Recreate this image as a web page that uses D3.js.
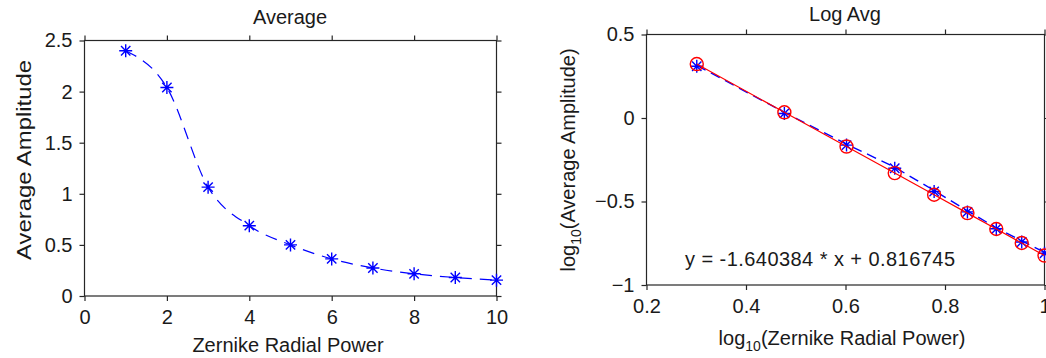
<!DOCTYPE html>
<html>
<head>
<meta charset="utf-8">
<script src="https://cdn.jsdelivr.net/npm/d3@7"></script>
<style>
  html, body { margin: 0; padding: 0; background: #ffffff; }
  svg { display: block; }
  text { font-family: "Liberation Sans", Arial, sans-serif; fill: #1a1a1a; }
</style>
</head>
<body>
<svg id="chart" width="1046" height="358"></svg>
<script>
// ---- data ----
const radialPower = [1, 2, 3, 4, 5, 6, 7, 8, 9, 10];
const avgAmplitude = [2.40, 2.04, 1.065, 0.688, 0.50, 0.363, 0.274, 0.217, 0.181, 0.155];
const logPlotPower = [2, 3, 4, 5, 6, 7, 8, 9, 10];   // points shown in the log plot
const fitSlope = -1.640384;
const fitIntercept = 0.816745;
const leftXTicks = [0, 2, 4, 6, 8, 10];
const leftYTicks = [0, 0.5, 1, 1.5, 2, 2.5];
const rightXTicks = [0.2, 0.4, 0.6, 0.8, 1.0];
const rightYTicks = [-1, -0.5, 0, 0.5];
const leftTitle = "Average";
const rightTitle = "Log Avg";
const leftXLabel = "Zernike Radial Power";
const leftYLabel = "Average Amplitude";
const equationText = "y = -1.640384 * x + 0.816745";

const svg = d3.select("#chart");
const FS = 20;
const AXIS = "#262626";

function starPath(r) {
  const d = r * 0.72;
  return `M${-r},0L${r},0M0,${-r}L0,${r}M${-d},${-d}L${d},${d}M${-d},${d}L${d},${-d}`;
}

function drawFrame(g, x, y, xTicks, yTicks, xFmt, yFmt, opts) {
  const [x0, x1] = x.range();
  const [y0, y1] = y.range(); // y0 bottom, y1 top
  // box
  g.append("rect").attr("x", x0).attr("y", y1).attr("width", x1 - x0).attr("height", y0 - y1)
    .attr("fill", "none").attr("stroke", AXIS).attr("stroke-width", 1.2);
  const tl = 5;
  // axes via d3 for ticks
  const bottom = d3.axisBottom(x).tickValues(xTicks).tickFormat(xFmt).tickSizeInner(tl).tickSizeOuter(0).tickPadding(9);
  const left = d3.axisLeft(y).tickValues(yTicks).tickFormat(yFmt).tickSizeInner(tl).tickSizeOuter(0).tickPadding(7);
  const top = d3.axisTop(x).tickValues(xTicks).tickFormat("").tickSizeInner(tl).tickSizeOuter(0);
  const right = d3.axisRight(y).tickValues(yTicks).tickFormat("").tickSizeInner(tl).tickSizeOuter(0);
  const styleAx = sel => {
    sel.select(".domain").remove();
    sel.selectAll(".tick line").attr("stroke", AXIS).attr("stroke-width", 1.2);
    sel.selectAll(".tick text").attr("fill", "#1a1a1a").attr("font-size", FS)
      .attr("font-family", "Liberation Sans, Arial, sans-serif");
  };
  g.append("g").attr("transform", `translate(0,${y0})`).call(bottom).call(styleAx);
  g.append("g").attr("transform", `translate(${x0},0)`).call(left).call(styleAx);
  g.append("g").attr("transform", `translate(0,${y1})`).call(top).call(styleAx);
  g.append("g").attr("transform", `translate(${x1},0)`).call(right).call(styleAx);
}

// ---------------- left plot ----------------
const xL = d3.scaleLinear().domain([0, 10]).range([84.5, 496.5]);
const yL = d3.scaleLinear().domain([0, 2.5]).range([296, 40.5]);
const gL = svg.append("g");
const numFmt = d => String(d);
drawFrame(gL, xL, yL, leftXTicks, leftYTicks, numFmt, numFmt);

const lineL = d3.line().x((d, i) => xL(radialPower[i])).y(d => yL(d)).curve(d3.curveMonotoneX);
gL.append("path").datum(avgAmplitude).attr("d", lineL)
  .attr("fill", "none").attr("stroke", "#0000ff").attr("stroke-width", 1.2)
  .attr("stroke-dasharray", "12,8");
gL.selectAll("path.starL").data(avgAmplitude).enter().append("path")
  .attr("class", "starL")
  .attr("transform", (d, i) => `translate(${xL(radialPower[i])},${yL(d)})`)
  .attr("d", starPath(6.5)).attr("stroke", "#0000ff").attr("stroke-width", 1.4).attr("fill", "none");

gL.append("text").attr("x", 290).attr("y", 24).attr("text-anchor", "middle").attr("font-size", FS).text(leftTitle);
gL.append("text").attr("x", 288).attr("y", 352).attr("text-anchor", "middle").attr("font-size", FS).text(leftXLabel);
gL.append("text").attr("transform", "translate(31,160) rotate(-90)").attr("text-anchor", "middle")
  .attr("font-size", FS).attr("textLength", 200).attr("lengthAdjust", "spacingAndGlyphs").text(leftYLabel);

// ---------------- right plot ----------------
const xR = d3.scaleLinear().domain([0.2, 1.0]).range([646.5, 1044.5]);
const yR = d3.scaleLinear().domain([-1, 0.5]).range([285, 34.5]);
const gR = svg.append("g");
drawFrame(gR, xR, yR, rightXTicks, rightYTicks, d => d3.format("~g")(d), d => d3.format("~g")(d));

const logPts = logPlotPower.map(p => ({ x: Math.log10(p), y: Math.log10(avgAmplitude[radialPower.indexOf(p)]) }));
const fitPts = logPlotPower.map(p => ({ x: Math.log10(p), y: fitSlope * Math.log10(p) + fitIntercept }));
const lineR = d3.line().x(d => xR(d.x)).y(d => yR(d.y));

gR.append("path").datum(logPts).attr("d", lineR)
  .attr("fill", "none").attr("stroke", "#0000ff").attr("stroke-width", 1.4)
  .attr("stroke-dasharray", "10,6").attr("transform", "translate(0,-1)");
gR.selectAll("path.starR").data(logPts).enter().append("path")
  .attr("class", "starR")
  .attr("transform", d => `translate(${xR(d.x)},${yR(d.y)})`)
  .attr("d", starPath(6.5)).attr("stroke", "#0000ff").attr("stroke-width", 1.4).attr("fill", "none");
gR.append("path").datum(fitPts).attr("d", lineR)
  .attr("fill", "none").attr("stroke", "#ff0000").attr("stroke-width", 1.2);
gR.selectAll("circle.fit").data(fitPts).enter().append("circle")
  .attr("class", "fit")
  .attr("cx", d => xR(d.x)).attr("cy", d => yR(d.y)).attr("r", 6.5)
  .attr("fill", "none").attr("stroke", "#ff0000").attr("stroke-width", 1.4);

gR.append("text").attr("x", 845).attr("y", 21).attr("text-anchor", "middle").attr("font-size", FS).text(rightTitle);
gR.append("text").attr("x", 685).attr("y", 266).attr("font-size", FS)
  .attr("textLength", 270).attr("lengthAdjust", "spacing").text(equationText);

// x label with subscript
const xlab = gR.append("text").attr("x", 842).attr("y", 345).attr("text-anchor", "middle").attr("font-size", FS);
xlab.append("tspan").text("log");
xlab.append("tspan").attr("font-size", 14).attr("dy", 6).text("10");
xlab.append("tspan").attr("dy", -6).text("(Zernike Radial Power)");

// y label with subscript, rotated
const ylab = gR.append("text").attr("transform", "translate(575,160) rotate(-90)").attr("text-anchor", "middle").attr("font-size", FS);
ylab.append("tspan").text("log");
ylab.append("tspan").attr("font-size", 14).attr("dy", 6).text("10");
ylab.append("tspan").attr("dy", -6).text("(Average Amplitude)");
</script>
</body>
</html>
